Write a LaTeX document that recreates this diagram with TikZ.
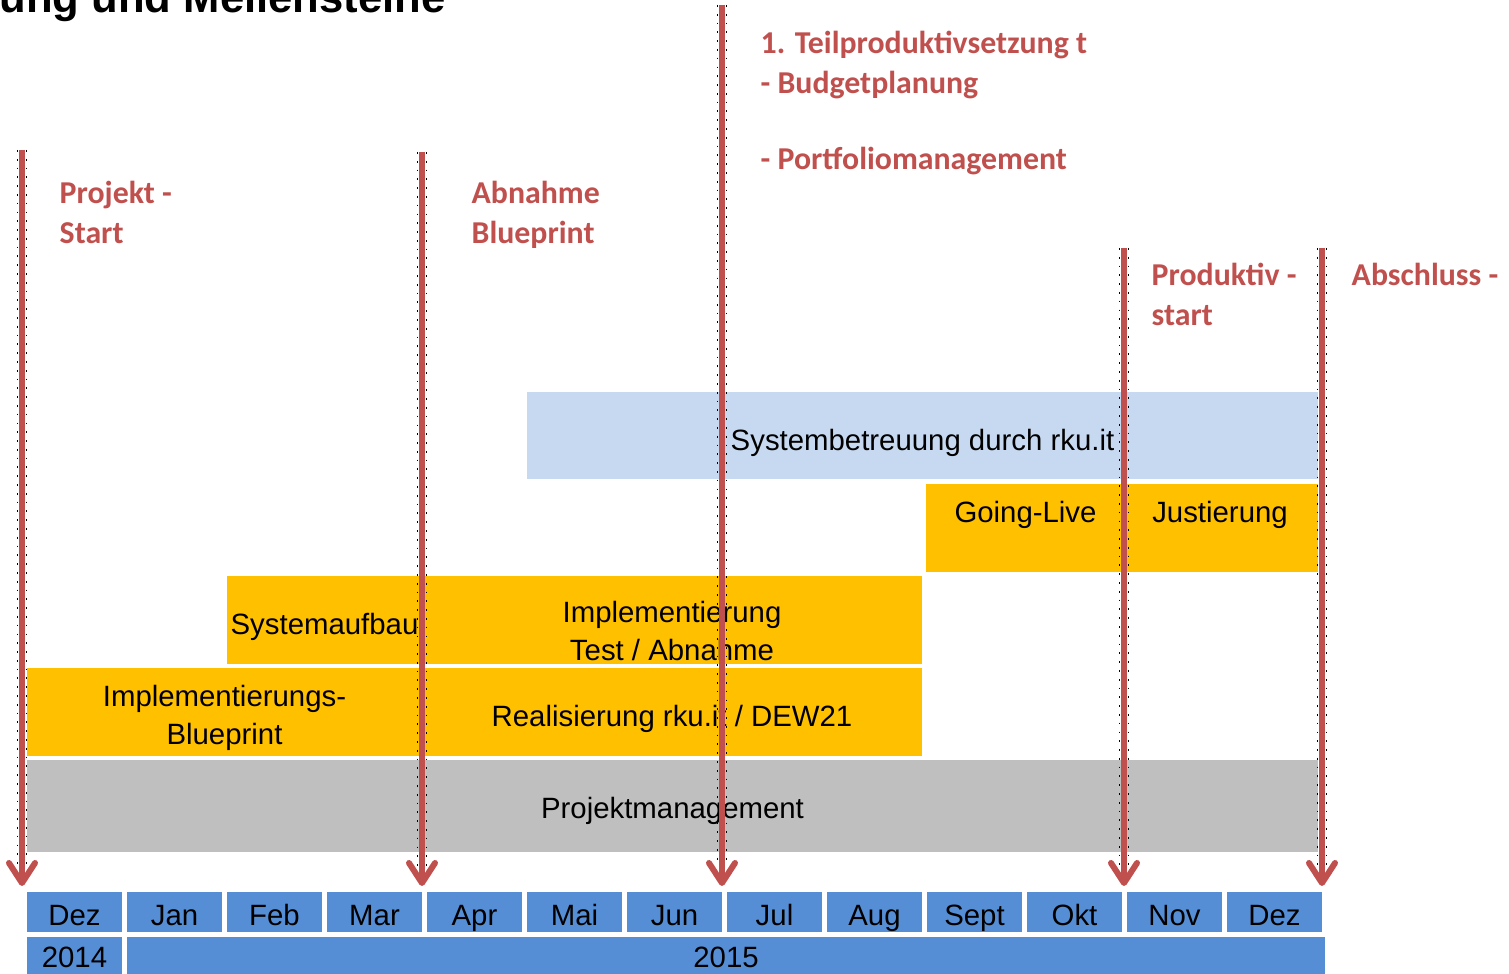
\documentclass[tikz,border=0pt]{standalone}
\usepackage{fontspec}
\setmainfont{Liberation Sans}
\newfontfamily\calibriFont{Carlito}
\usepackage{xcolor}
\usepackage{tikz}
\usetikzlibrary{arrows.meta,positioning}
\definecolor{milestoneRed}{HTML}{C0504D}
\definecolor{phaseOrange}{HTML}{FFC000}
\definecolor{supportBlue}{HTML}{C6D9F1}
\definecolor{monthBlue}{HTML}{558ED5}
\definecolor{pmGray}{HTML}{BFBFBF}
% text of a bar, raised or lowered against the bar centre
\newcommand{\barText}[2][-0.135cm]{\raisebox{#1}[0pt][0pt]{\begin{tabular}{@{}c@{}}#2\end{tabular}}}
\tikzstyle{phase} = [rectangle, draw = none, inner sep = 0pt, minimum height = 0.88cm, font = \fontsize{8.35}{10.8}\selectfont]
\tikzstyle{phaseOrange} = [phase, fill = phaseOrange]
\tikzstyle{phaseBlue} = [phase, fill = supportBlue]
\tikzstyle{phaseGray} = [phase, fill = pmGray, minimum height = 0.92cm]
\tikzstyle{month} = [rectangle, fill = monthBlue, inner sep = 0pt, minimum width = 0.95cm, minimum height = 0.40cm, font = \fontsize{8.35}{10}\selectfont]
\tikzstyle{year} = [month, minimum height = 0.37cm]
\tikzstyle{msText} = [anchor = north west, inner sep = 0pt, align = left, text = milestoneRed, font = \calibriFont\bfseries\fontsize{9.05}{11.4}\selectfont]
\tikzstyle{msLine} = [milestoneRed, line width = 1.7pt, -{Straight Barb[length = 2mm, width = 2.6mm, round]}]
\tikzstyle{msDots} = [black, line width = 0.5pt, dash pattern = on 0.5pt off 2pt]

\begin{document}
\begin{tikzpicture}[x = 0.01cm, y = -0.01cm]
        \useasboundingbox (0,0) rectangle (1509,974);
        % title, cut off at the top
        \node(title) [anchor = base west, inner sep = 0pt, font = \bfseries\fontsize{12.4}{14}\selectfont] at (-1,13) {ung und Meilensteine};
        % time axis
        \foreach \m [count = \i from 0] in {Dez,Jan,Feb,Mar,Apr,Mai,Jun,Jul,Aug,Sept,Okt,Nov,Dez}
            \node(m\i) [month] at (74.5+100*\i,912) {\barText{\m}};
        \node(y2014) [year] at (74.5,955.5) {\barText[-0.12cm]{2014}};
        \node(y2015) [year, minimum width = 11.98cm] at (726,955.5) {\barText[-0.12cm]{2015}};
        % phases
        \node(pm) [phaseGray, minimum width = 12.91cm] at (672.5,806) {\barText[-0.116cm]{Projektmanagement}};
        \node(blueprint) [phaseOrange, minimum width = 3.95cm] at (224.5,712) {\barText[-0.126cm]{Implementierungs-\\Blueprint}};
        \node(real) [phaseOrange, minimum width = 5.0cm] at (672,712) {\barText{Realisierung rku.it / DEW21}};
        \node(aufbau) [phaseOrange, minimum width = 1.95cm] at (324.5,620) {\barText{Systemaufbau}};
        \node(impl) [phaseOrange, minimum width = 5.0cm] at (672,620) {\barText[-0.206cm]{Implementierung\\Test / Abnahme}};
        \node(golive) [phaseOrange, minimum width = 1.96cm] at (1024,528) {\barText[0.064cm]{\hspace{0.03cm}Going-Live}};
        \node(just) [phaseOrange, minimum width = 1.96cm] at (1220,528) {\barText[0.064cm]{Justierung\hspace{0.16cm}}};
        \node(betreuung) [phaseBlue, minimum width = 7.91cm, minimum height = 0.87cm] at (922.5,435.5) {\barText[-0.141cm]{Systembetreuung durch rku.it}};
        % milestones
        \foreach \n/\x/\ytop in {1/22/150, 2/422/152, 3/722/5, 4/1124/248, 5/1322/248} {
            \coordinate(ms\n top) at (\x,\ytop);
            \coordinate(ms\n tip) at (\x,886);
            \draw[msDots] ([xshift = 0.045cm]ms\n top) -- ([xshift = 0.045cm, yshift = 0.2cm]ms\n tip);
            \draw[msDots] ([xshift = -0.045cm]ms\n top) -- ([xshift = -0.045cm, yshift = 0.2cm]ms\n tip);
            \draw[msLine] (ms\n top) -- (ms\n tip);
        }
        \node(msStart) [msText] at (59,180) {Projekt -\\Start};
        \node(msBlueprint) [msText] at (471,180) {Abnahme\\Blueprint};
        \node(msTeil) [msText] at (760,30) {1. Teilproduktivsetzung t\\- Budgetplanung\\[10.4pt]- Portfoliomanagement};
        \node(msProd) [msText] at (1151,262) {Produktiv -\\start};
        \node(msEnd) [msText] at (1351,262) {Abschluss -};
    \end{tikzpicture}
\end{document}
